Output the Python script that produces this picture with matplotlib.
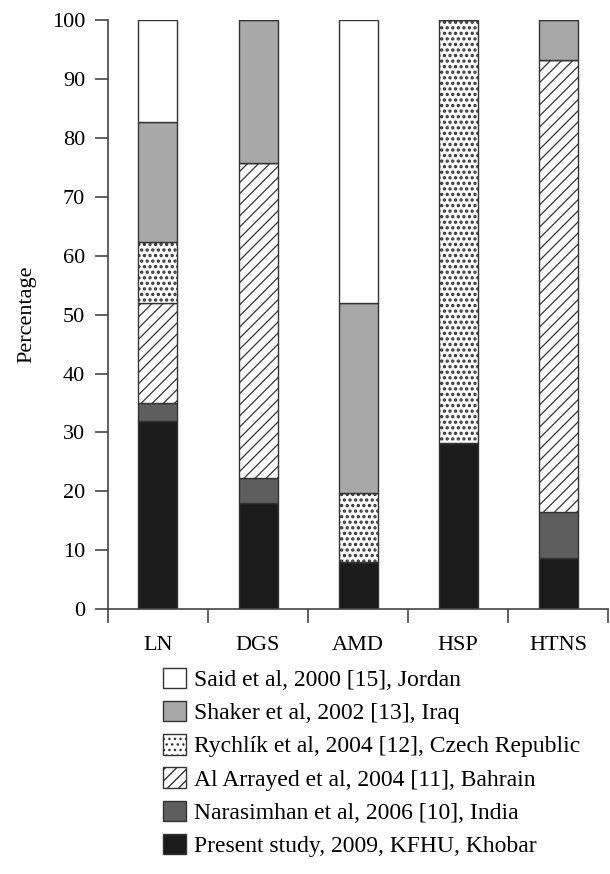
import numpy as np
import matplotlib
matplotlib.use("Agg")
import matplotlib.pyplot as plt
from matplotlib.patches import Patch

# categories and the six studies (percentage per category)
categories = ["LN", "DGS", "AMD", "HSP", "HTNS"]
present = [32.0, 18.0, 8.0, 28.2, 8.7]
narasimhan = [3.0, 4.2, 0.0, 0.0, 7.8]
al_arrayed = [17.0, 53.5, 0.0, 0.0, 76.8]
rychlik = [10.3, 0.0, 11.7, 71.8, 0.0]
shaker = [20.4, 24.3, 32.2, 0.0, 6.7]
said = [17.3, 0.0, 48.1, 0.0, 0.0]

labels = [
    "Present study, 2009, KFHU, Khobar",
    "Narasimhan et al, 2006 [10], India",
    "Al Arrayed et al, 2004 [11], Bahrain",
    "Rychlík et al, 2004 [12], Czech Republic",
    "Shaker et al, 2002 [13], Iraq",
    "Said et al, 2000 [15], Jordan",
]

plt.rcParams["font.family"] = ["Liberation Serif", "DejaVu Serif"]
plt.rcParams["hatch.color"] = "#1e1e1e"

series = [present, narasimhan, al_arrayed, rychlik, shaker, said]
styles = [
    dict(facecolor="#1c1c1c", hatch=None, hlw=0.9),
    dict(facecolor="#5e5e5e", hatch=None, hlw=0.9),
    dict(facecolor="white", hatch="///", hlw=0.9),
    dict(facecolor="white", hatch="...", hlw=1.6),
    dict(facecolor="#a8a8a8", hatch=None, hlw=0.9),
    dict(facecolor="white", hatch=None, hlw=0.9),
]

fig = plt.figure(figsize=(6.1, 8.74), dpi=100)
ax = fig.add_axes([0.177, 0.303, 0.82, 0.674])

x = np.arange(len(categories))
bottom = np.zeros(len(categories))
handles = []
for vals, st, lab in zip(series, styles, labels):
    vals = np.array(vals)
    ax.bar(x, vals, width=0.39, bottom=bottom, facecolor=st["facecolor"],
           hatch=st["hatch"], hatch_linewidth=st["hlw"],
           edgecolor="#333333", linewidth=1.0)
    bottom += vals
    handles.append(Patch(facecolor=st["facecolor"], hatch=st["hatch"],
                         hatch_linewidth=st["hlw"],
                         edgecolor="#333333", linewidth=1.0, label=lab))

ax.set_xlim(-0.5, len(categories) - 0.5)
ax.set_ylim(0, 100)
ax.set_yticks(np.arange(0, 101, 10))
ax.set_xticks(np.arange(-0.5, len(categories), 1.0))
ax.set_xticklabels([])
ax.set_xticks(x, minor=True)
ax.set_xticklabels(categories, minor=True)
ax.tick_params(axis="x", which="major", length=10, width=1.2, color="#444444")
ax.tick_params(axis="x", which="minor", length=0, pad=19, labelsize=16)
ax.tick_params(axis="y", length=9.5, width=1.2, color="#444444", labelsize=16, pad=7)
for side in ["top", "right"]:
    ax.spines[side].set_visible(False)
for side in ["left", "bottom"]:
    ax.spines[side].set_linewidth(1.2)
    ax.spines[side].set_color("#444444")
ax.set_ylabel("Percentage", fontsize=16, labelpad=11)

fig.legend(handles=handles[::-1], loc="upper left", bbox_to_anchor=(0.268, 0.236),
           frameon=False, fontsize=17, handlelength=0.95, handleheight=0.95,
           handletextpad=0.35, labelspacing=0.42, borderpad=0, borderaxespad=0)

fig.savefig("out.png", dpi=100)
